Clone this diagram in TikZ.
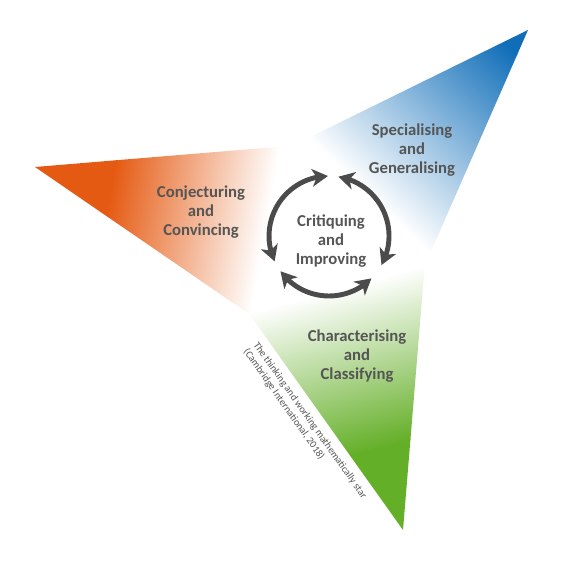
\documentclass[tikz,border=0pt]{standalone}
\usepackage{fontspec}
\setmainfont{Carlito}
\usepackage{xcolor}
\usepackage{tikz}
\usetikzlibrary{arrows.meta,bending}

\definecolor{starorange}{RGB}{229,90,18}
\definecolor{starblue}{RGB}{16,110,185}
\definecolor{stargreen}{RGB}{100,175,40}
\definecolor{labelgrey}{RGB}{85,85,85}
\definecolor{cyclegrey}{RGB}{75,75,75}

\begin{document}
\begin{tikzpicture}[x=0.02cm, y=0.02cm, every node/.style={align=center}, label/.style={font=\fontsize{9.5}{11}\selectfont\bfseries, text=labelgrey}, cycle/.style={line width=2.8pt, draw=cyclegrey, {Stealth[length=9pt,width=10pt,inset=2.5pt,flex]}-{Stealth[length=9pt,width=10pt,inset=2.5pt,flex]}}]
\useasboundingbox (0,0) rectangle (563,563);
% orange point
\begin{scope}
\clip (35,396) -- (300,418) -- (255,245) -- cycle;
\begin{scope}[transform canvas={shift={(277.5,331.5)}, rotate=170}]
\shade[left color=white, right color=starorange] (12,-200) rectangle (172,200);
\fill[starorange] (171,-200) rectangle (300,200);
\end{scope}
\end{scope}
% blue point
\begin{scope}
\clip (528,533) -- (300,421) -- (425,298) -- cycle;
\begin{scope}[transform canvas={shift={(362.5,359.5)}, rotate=46.4}]
\shade[left color=white, right color=starblue] (10,-200) rectangle (215,200);
\fill[starblue] (214,-200) rectangle (300,200);
\end{scope}
\end{scope}
% green point
\begin{scope}
\clip (403,33) -- (245,255) -- (426,313) -- cycle;
\begin{scope}[transform canvas={shift={(335.5,284)}, rotate=-74.9}]
\shade[left color=white, right color=stargreen] (10,-200) rectangle (175,200);
\fill[stargreen] (174,-200) rectangle (300,200);
\end{scope}
\end{scope}
\node[label] (crit) at (331,322) {Critiquing\\and\\Improving};
\node[label] (conj) at (201,351) {Conjecturing\\and\\Convincing};
\node[label] (spec) at (412,413) {Specialising\\and\\Generalising};
\node[label] (char) at (357,207) {Characterising\\and\\Classifying};
\node[font=\fontsize{5.8}{6.8}\selectfont, text=labelgrey, align=left, rotate=-54.7] (cap) at (305,139) {The thinking and working mathematically star\\(Cambridge International, 2018)};
\coordinate (hub) at (329,327);
\draw[cycle] ([shift={(91:60)}]hub) arc[start angle=91, end angle=205, radius=60];
\draw[cycle] ([shift={(216:60)}]hub) arc[start angle=216, end angle=315, radius=60];
\draw[cycle] ([shift={(331:60)}]hub) arc[start angle=331, end angle=441, radius=60];
\end{tikzpicture}
\end{document}
